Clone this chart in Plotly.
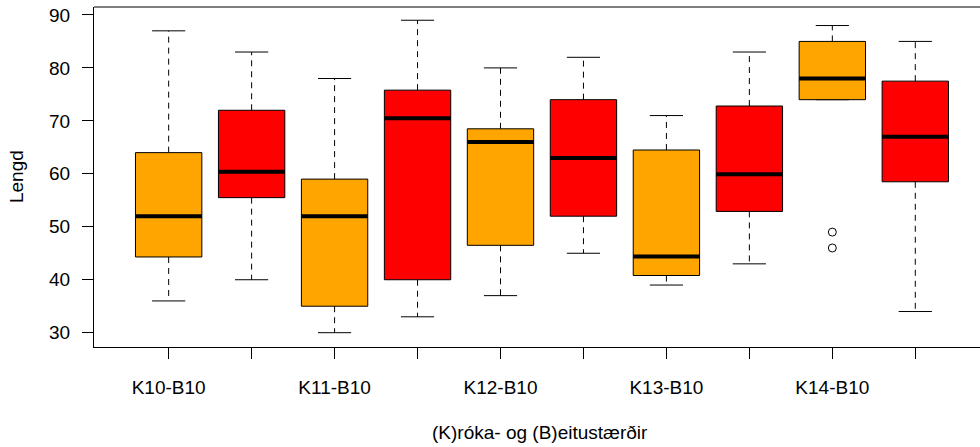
import plotly.graph_objects as go

# Five-number summaries per group (hook size / bait size combinations)
positions = [1, 2, 3, 4, 5, 6, 7, 8, 9, 10]
group_labels = ["K10-B10", "", "K11-B10", "", "K12-B10", "", "K13-B10", "", "K14-B10", ""]
lower_whisker = [36, 40, 30, 33, 37, 45, 39, 43, 74, 34]
q1_values = [44.3, 55.5, 35, 40, 46.5, 52, 40.8, 52.9, 74, 58.5]
median_values = [52, 60.4, 52, 70.5, 66, 63, 44.4, 59.9, 78, 67]
q3_values = [64, 72, 59, 75.8, 68.5, 74, 64.5, 72.8, 85, 77.5]
upper_whisker = [87, 83, 78, 89, 80, 82, 71, 83, 88, 85]
box_colors = ["#FFA500", "#FF0000"] * 5
outlier_x = [9, 9]
outlier_y = [49, 46]

y_ticks = [30, 40, 50, 60, 70, 80, 90]

BOX_HALF = 0.4
CAP_HALF = 0.2
FONT = "Liberation Sans, Arial, sans-serif"

fig = go.Figure()

for x, lo, a, m, b, hi, col in zip(positions, lower_whisker, q1_values, median_values,
                                    q3_values, upper_whisker, box_colors):
    # dashed whiskers
    fig.add_trace(go.Scatter(
        x=[x, x, None, x, x], y=[b, hi, None, a, lo], mode="lines",
        line=dict(color="black", width=1, dash="6px,5px"),
        hoverinfo="skip", showlegend=False))
    # whisker caps
    fig.add_trace(go.Scatter(
        x=[x - CAP_HALF, x + CAP_HALF, None, x - CAP_HALF, x + CAP_HALF],
        y=[hi, hi, None, lo, lo], mode="lines",
        line=dict(color="black", width=1),
        hoverinfo="skip", showlegend=False))
    # box body
    fig.add_trace(go.Scatter(
        x=[x - BOX_HALF, x + BOX_HALF, x + BOX_HALF, x - BOX_HALF, x - BOX_HALF],
        y=[a, a, b, b, a], mode="lines", fill="toself", fillcolor=col,
        line=dict(color="black", width=1),
        hoverinfo="skip", showlegend=False))
    # median
    fig.add_trace(go.Scatter(
        x=[x - BOX_HALF, x + BOX_HALF], y=[m, m], mode="lines",
        line=dict(color="black", width=4),
        hoverinfo="skip", showlegend=False))

fig.add_trace(go.Scatter(
    x=outlier_x, y=outlier_y, mode="markers",
    marker=dict(symbol="circle-open", size=8, color="black", line=dict(width=1)),
    hoverinfo="skip", showlegend=False))

fig.update_layout(
    width=980, height=447,
    margin=dict(l=94, r=0, t=7, b=100),
    paper_bgcolor="white", plot_bgcolor="white",
    font=dict(family=FONT, size=19, color="black"),
    xaxis=dict(
        range=[0.1, 10.78], tickvals=positions, ticktext=group_labels,
        ticks="outside", ticklen=11, tickwidth=1, tickcolor="black",
        showline=True, linecolor="black", linewidth=1,
        showgrid=False, zeroline=False, ticklabelstandoff=12,
    ),
    yaxis=dict(
        range=[27.3, 91.5], tickvals=y_ticks,
        ticks="outside", ticklen=11, tickwidth=1, tickcolor="black",
        showline=True, linecolor="black", linewidth=1,
        showgrid=False, zeroline=False, ticklabelstandoff=8,
    ),
    shapes=[dict(type="line", xref="paper", yref="paper", x0=0, x1=1, y0=1, y1=1,
                 line=dict(color="black", width=1))],
    annotations=[
        dict(text="Lengd", xref="paper", yref="paper", x=-0.088, y=0.5,
             textangle=-90, showarrow=False, xanchor="center", yanchor="middle",
             font=dict(size=19)),
        dict(text="(K)róka- og (B)eitustærðir", xref="paper", yref="paper",
             x=0.503, y=-0.25, showarrow=False, xanchor="center", yanchor="middle",
             font=dict(size=19)),
    ],
)

fig.write_html("out.html")
